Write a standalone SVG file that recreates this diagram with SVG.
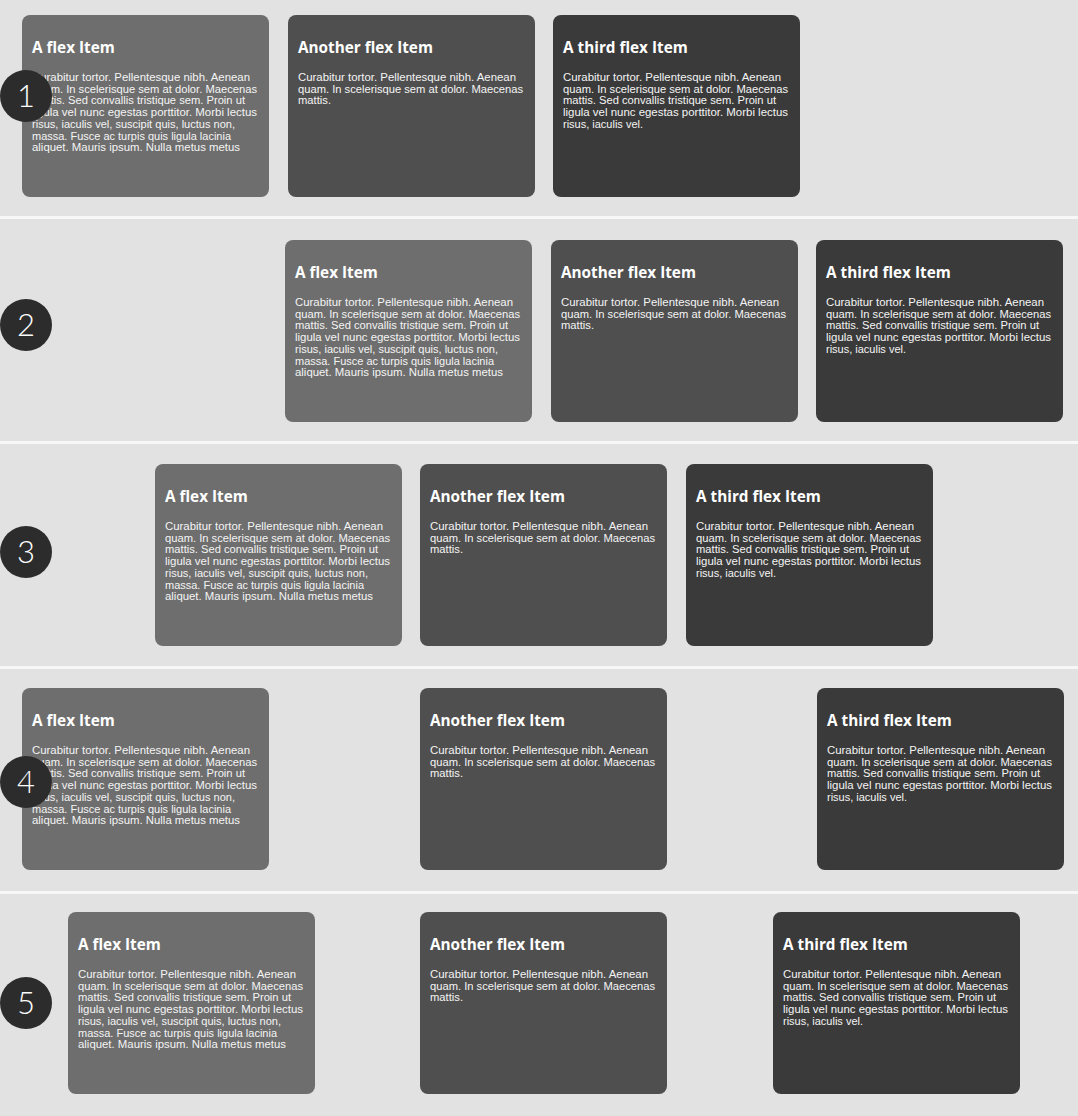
<svg xmlns="http://www.w3.org/2000/svg" width="1078" height="1116" viewBox="0 0 1078 1116">
  <style>
    .bg { fill: #e2e2e2; }
    .sep { fill: #f7f7f7; }
    .item { stroke: none; }
    .c1 { fill: #6e6e6e; }
    .c2 { fill: #4f4f4f; }
    .c3 { fill: #3a3a3a; }
    .title { font-family: "Open Sans", "Liberation Sans", sans-serif; font-weight: 700; font-size: 15.3px; fill: #ffffff; }
    .body { font-family: "Liberation Sans", Arial, sans-serif; font-size: 10px; fill: #f4f4f4; }
    .badge { fill: #2c2c2c; }
    .num { font-family: "Lato", "Open Sans", sans-serif; font-weight: 300; font-size: 31px; fill: #ffffff; text-anchor: middle; }
  </style>

  <!-- page background and row dividers -->
  <rect class="bg" x="0" y="0" width="1078" height="1116"/>
  <rect class="sep" x="0" y="216" width="1078" height="3"/>
  <rect class="sep" x="0" y="441" width="1078" height="3"/>
  <rect class="sep" x="0" y="666" width="1078" height="3"/>
  <rect class="sep" x="0" y="891" width="1078" height="3"/>

  <!-- row 1: flex-start -->
  <g id="row1-item1" transform="translate(22,15)">
    <rect class="item c1" width="247" height="182" rx="8"/>
    <text class="title" x="10" y="38">A flex Item</text>
    <text class="body" x="10" y="66" textLength="218" lengthAdjust="spacingAndGlyphs">Curabitur tortor. Pellentesque nibh. Aenean</text>
    <text class="body" x="10" y="77.7" textLength="225" lengthAdjust="spacingAndGlyphs">quam. In scelerisque sem at dolor. Maecenas</text>
    <text class="body" x="10" y="89.4" textLength="213" lengthAdjust="spacingAndGlyphs">mattis. Sed convallis tristique sem. Proin ut</text>
    <text class="body" x="10" y="101.1" textLength="225" lengthAdjust="spacingAndGlyphs">ligula vel nunc egestas porttitor. Morbi lectus</text>
    <text class="body" x="10" y="112.8" textLength="203" lengthAdjust="spacingAndGlyphs">risus, iaculis vel, suscipit quis, luctus non,</text>
    <text class="body" x="10" y="124.5" textLength="199" lengthAdjust="spacingAndGlyphs">massa. Fusce ac turpis quis ligula lacinia</text>
    <text class="body" x="10" y="136.2" textLength="208" lengthAdjust="spacingAndGlyphs">aliquet. Mauris ipsum. Nulla metus metus</text>
  </g>
  <g id="row1-item2" transform="translate(288,15)">
    <rect class="item c2" width="247" height="182" rx="8"/>
    <text class="title" x="10" y="38">Another flex Item</text>
    <text class="body" x="10" y="66" textLength="218" lengthAdjust="spacingAndGlyphs">Curabitur tortor. Pellentesque nibh. Aenean</text>
    <text class="body" x="10" y="77.7" textLength="225" lengthAdjust="spacingAndGlyphs">quam. In scelerisque sem at dolor. Maecenas</text>
    <text class="body" x="10" y="89.4" textLength="33" lengthAdjust="spacingAndGlyphs">mattis.</text>
  </g>
  <g id="row1-item3" transform="translate(553,15)">
    <rect class="item c3" width="247" height="182" rx="8"/>
    <text class="title" x="10" y="38">A third flex Item</text>
    <text class="body" x="10" y="66" textLength="218" lengthAdjust="spacingAndGlyphs">Curabitur tortor. Pellentesque nibh. Aenean</text>
    <text class="body" x="10" y="77.7" textLength="225" lengthAdjust="spacingAndGlyphs">quam. In scelerisque sem at dolor. Maecenas</text>
    <text class="body" x="10" y="89.4" textLength="213" lengthAdjust="spacingAndGlyphs">mattis. Sed convallis tristique sem. Proin ut</text>
    <text class="body" x="10" y="101.1" textLength="225" lengthAdjust="spacingAndGlyphs">ligula vel nunc egestas porttitor. Morbi lectus</text>
    <text class="body" x="10" y="112.8" textLength="80" lengthAdjust="spacingAndGlyphs">risus, iaculis vel.</text>
  </g>
  <g id="badge1">
    <circle class="badge" cx="26" cy="96" r="26"/>
    <text class="num" x="26" y="107">1</text>
  </g>

  <!-- row 2: flex-end -->
  <g id="row2-item1" transform="translate(285,240)">
    <rect class="item c1" width="247" height="182" rx="8"/>
    <text class="title" x="10" y="38">A flex Item</text>
    <text class="body" x="10" y="66" textLength="218" lengthAdjust="spacingAndGlyphs">Curabitur tortor. Pellentesque nibh. Aenean</text>
    <text class="body" x="10" y="77.7" textLength="225" lengthAdjust="spacingAndGlyphs">quam. In scelerisque sem at dolor. Maecenas</text>
    <text class="body" x="10" y="89.4" textLength="213" lengthAdjust="spacingAndGlyphs">mattis. Sed convallis tristique sem. Proin ut</text>
    <text class="body" x="10" y="101.1" textLength="225" lengthAdjust="spacingAndGlyphs">ligula vel nunc egestas porttitor. Morbi lectus</text>
    <text class="body" x="10" y="112.8" textLength="203" lengthAdjust="spacingAndGlyphs">risus, iaculis vel, suscipit quis, luctus non,</text>
    <text class="body" x="10" y="124.5" textLength="199" lengthAdjust="spacingAndGlyphs">massa. Fusce ac turpis quis ligula lacinia</text>
    <text class="body" x="10" y="136.2" textLength="208" lengthAdjust="spacingAndGlyphs">aliquet. Mauris ipsum. Nulla metus metus</text>
  </g>
  <g id="row2-item2" transform="translate(551,240)">
    <rect class="item c2" width="247" height="182" rx="8"/>
    <text class="title" x="10" y="38">Another flex Item</text>
    <text class="body" x="10" y="66" textLength="218" lengthAdjust="spacingAndGlyphs">Curabitur tortor. Pellentesque nibh. Aenean</text>
    <text class="body" x="10" y="77.7" textLength="225" lengthAdjust="spacingAndGlyphs">quam. In scelerisque sem at dolor. Maecenas</text>
    <text class="body" x="10" y="89.4" textLength="33" lengthAdjust="spacingAndGlyphs">mattis.</text>
  </g>
  <g id="row2-item3" transform="translate(816,240)">
    <rect class="item c3" width="247" height="182" rx="8"/>
    <text class="title" x="10" y="38">A third flex Item</text>
    <text class="body" x="10" y="66" textLength="218" lengthAdjust="spacingAndGlyphs">Curabitur tortor. Pellentesque nibh. Aenean</text>
    <text class="body" x="10" y="77.7" textLength="225" lengthAdjust="spacingAndGlyphs">quam. In scelerisque sem at dolor. Maecenas</text>
    <text class="body" x="10" y="89.4" textLength="213" lengthAdjust="spacingAndGlyphs">mattis. Sed convallis tristique sem. Proin ut</text>
    <text class="body" x="10" y="101.1" textLength="225" lengthAdjust="spacingAndGlyphs">ligula vel nunc egestas porttitor. Morbi lectus</text>
    <text class="body" x="10" y="112.8" textLength="80" lengthAdjust="spacingAndGlyphs">risus, iaculis vel.</text>
  </g>
  <g id="badge2">
    <circle class="badge" cx="26" cy="325" r="26"/>
    <text class="num" x="26" y="336">2</text>
  </g>

  <!-- row 3: center -->
  <g id="row3-item1" transform="translate(155,464)">
    <rect class="item c1" width="247" height="182" rx="8"/>
    <text class="title" x="10" y="38">A flex Item</text>
    <text class="body" x="10" y="66" textLength="218" lengthAdjust="spacingAndGlyphs">Curabitur tortor. Pellentesque nibh. Aenean</text>
    <text class="body" x="10" y="77.7" textLength="225" lengthAdjust="spacingAndGlyphs">quam. In scelerisque sem at dolor. Maecenas</text>
    <text class="body" x="10" y="89.4" textLength="213" lengthAdjust="spacingAndGlyphs">mattis. Sed convallis tristique sem. Proin ut</text>
    <text class="body" x="10" y="101.1" textLength="225" lengthAdjust="spacingAndGlyphs">ligula vel nunc egestas porttitor. Morbi lectus</text>
    <text class="body" x="10" y="112.8" textLength="203" lengthAdjust="spacingAndGlyphs">risus, iaculis vel, suscipit quis, luctus non,</text>
    <text class="body" x="10" y="124.5" textLength="199" lengthAdjust="spacingAndGlyphs">massa. Fusce ac turpis quis ligula lacinia</text>
    <text class="body" x="10" y="136.2" textLength="208" lengthAdjust="spacingAndGlyphs">aliquet. Mauris ipsum. Nulla metus metus</text>
  </g>
  <g id="row3-item2" transform="translate(420,464)">
    <rect class="item c2" width="247" height="182" rx="8"/>
    <text class="title" x="10" y="38">Another flex Item</text>
    <text class="body" x="10" y="66" textLength="218" lengthAdjust="spacingAndGlyphs">Curabitur tortor. Pellentesque nibh. Aenean</text>
    <text class="body" x="10" y="77.7" textLength="225" lengthAdjust="spacingAndGlyphs">quam. In scelerisque sem at dolor. Maecenas</text>
    <text class="body" x="10" y="89.4" textLength="33" lengthAdjust="spacingAndGlyphs">mattis.</text>
  </g>
  <g id="row3-item3" transform="translate(686,464)">
    <rect class="item c3" width="247" height="182" rx="8"/>
    <text class="title" x="10" y="38">A third flex Item</text>
    <text class="body" x="10" y="66" textLength="218" lengthAdjust="spacingAndGlyphs">Curabitur tortor. Pellentesque nibh. Aenean</text>
    <text class="body" x="10" y="77.7" textLength="225" lengthAdjust="spacingAndGlyphs">quam. In scelerisque sem at dolor. Maecenas</text>
    <text class="body" x="10" y="89.4" textLength="213" lengthAdjust="spacingAndGlyphs">mattis. Sed convallis tristique sem. Proin ut</text>
    <text class="body" x="10" y="101.1" textLength="225" lengthAdjust="spacingAndGlyphs">ligula vel nunc egestas porttitor. Morbi lectus</text>
    <text class="body" x="10" y="112.8" textLength="80" lengthAdjust="spacingAndGlyphs">risus, iaculis vel.</text>
  </g>
  <g id="badge3">
    <circle class="badge" cx="26" cy="552" r="26"/>
    <text class="num" x="26" y="563">3</text>
  </g>

  <!-- row 4: space-between -->
  <g id="row4-item1" transform="translate(22,688)">
    <rect class="item c1" width="247" height="182" rx="8"/>
    <text class="title" x="10" y="38">A flex Item</text>
    <text class="body" x="10" y="66" textLength="218" lengthAdjust="spacingAndGlyphs">Curabitur tortor. Pellentesque nibh. Aenean</text>
    <text class="body" x="10" y="77.7" textLength="225" lengthAdjust="spacingAndGlyphs">quam. In scelerisque sem at dolor. Maecenas</text>
    <text class="body" x="10" y="89.4" textLength="213" lengthAdjust="spacingAndGlyphs">mattis. Sed convallis tristique sem. Proin ut</text>
    <text class="body" x="10" y="101.1" textLength="225" lengthAdjust="spacingAndGlyphs">ligula vel nunc egestas porttitor. Morbi lectus</text>
    <text class="body" x="10" y="112.8" textLength="203" lengthAdjust="spacingAndGlyphs">risus, iaculis vel, suscipit quis, luctus non,</text>
    <text class="body" x="10" y="124.5" textLength="199" lengthAdjust="spacingAndGlyphs">massa. Fusce ac turpis quis ligula lacinia</text>
    <text class="body" x="10" y="136.2" textLength="208" lengthAdjust="spacingAndGlyphs">aliquet. Mauris ipsum. Nulla metus metus</text>
  </g>
  <g id="row4-item2" transform="translate(420,688)">
    <rect class="item c2" width="247" height="182" rx="8"/>
    <text class="title" x="10" y="38">Another flex Item</text>
    <text class="body" x="10" y="66" textLength="218" lengthAdjust="spacingAndGlyphs">Curabitur tortor. Pellentesque nibh. Aenean</text>
    <text class="body" x="10" y="77.7" textLength="225" lengthAdjust="spacingAndGlyphs">quam. In scelerisque sem at dolor. Maecenas</text>
    <text class="body" x="10" y="89.4" textLength="33" lengthAdjust="spacingAndGlyphs">mattis.</text>
  </g>
  <g id="row4-item3" transform="translate(817,688)">
    <rect class="item c3" width="247" height="182" rx="8"/>
    <text class="title" x="10" y="38">A third flex Item</text>
    <text class="body" x="10" y="66" textLength="218" lengthAdjust="spacingAndGlyphs">Curabitur tortor. Pellentesque nibh. Aenean</text>
    <text class="body" x="10" y="77.7" textLength="225" lengthAdjust="spacingAndGlyphs">quam. In scelerisque sem at dolor. Maecenas</text>
    <text class="body" x="10" y="89.4" textLength="213" lengthAdjust="spacingAndGlyphs">mattis. Sed convallis tristique sem. Proin ut</text>
    <text class="body" x="10" y="101.1" textLength="225" lengthAdjust="spacingAndGlyphs">ligula vel nunc egestas porttitor. Morbi lectus</text>
    <text class="body" x="10" y="112.8" textLength="80" lengthAdjust="spacingAndGlyphs">risus, iaculis vel.</text>
  </g>
  <g id="badge4">
    <circle class="badge" cx="26" cy="782" r="26"/>
    <text class="num" x="26" y="793">4</text>
  </g>

  <!-- row 5: space-around -->
  <g id="row5-item1" transform="translate(68,912)">
    <rect class="item c1" width="247" height="182" rx="8"/>
    <text class="title" x="10" y="38">A flex Item</text>
    <text class="body" x="10" y="66" textLength="218" lengthAdjust="spacingAndGlyphs">Curabitur tortor. Pellentesque nibh. Aenean</text>
    <text class="body" x="10" y="77.7" textLength="225" lengthAdjust="spacingAndGlyphs">quam. In scelerisque sem at dolor. Maecenas</text>
    <text class="body" x="10" y="89.4" textLength="213" lengthAdjust="spacingAndGlyphs">mattis. Sed convallis tristique sem. Proin ut</text>
    <text class="body" x="10" y="101.1" textLength="225" lengthAdjust="spacingAndGlyphs">ligula vel nunc egestas porttitor. Morbi lectus</text>
    <text class="body" x="10" y="112.8" textLength="203" lengthAdjust="spacingAndGlyphs">risus, iaculis vel, suscipit quis, luctus non,</text>
    <text class="body" x="10" y="124.5" textLength="199" lengthAdjust="spacingAndGlyphs">massa. Fusce ac turpis quis ligula lacinia</text>
    <text class="body" x="10" y="136.2" textLength="208" lengthAdjust="spacingAndGlyphs">aliquet. Mauris ipsum. Nulla metus metus</text>
  </g>
  <g id="row5-item2" transform="translate(420,912)">
    <rect class="item c2" width="247" height="182" rx="8"/>
    <text class="title" x="10" y="38">Another flex Item</text>
    <text class="body" x="10" y="66" textLength="218" lengthAdjust="spacingAndGlyphs">Curabitur tortor. Pellentesque nibh. Aenean</text>
    <text class="body" x="10" y="77.7" textLength="225" lengthAdjust="spacingAndGlyphs">quam. In scelerisque sem at dolor. Maecenas</text>
    <text class="body" x="10" y="89.4" textLength="33" lengthAdjust="spacingAndGlyphs">mattis.</text>
  </g>
  <g id="row5-item3" transform="translate(773,912)">
    <rect class="item c3" width="247" height="182" rx="8"/>
    <text class="title" x="10" y="38">A third flex Item</text>
    <text class="body" x="10" y="66" textLength="218" lengthAdjust="spacingAndGlyphs">Curabitur tortor. Pellentesque nibh. Aenean</text>
    <text class="body" x="10" y="77.7" textLength="225" lengthAdjust="spacingAndGlyphs">quam. In scelerisque sem at dolor. Maecenas</text>
    <text class="body" x="10" y="89.4" textLength="213" lengthAdjust="spacingAndGlyphs">mattis. Sed convallis tristique sem. Proin ut</text>
    <text class="body" x="10" y="101.1" textLength="225" lengthAdjust="spacingAndGlyphs">ligula vel nunc egestas porttitor. Morbi lectus</text>
    <text class="body" x="10" y="112.8" textLength="80" lengthAdjust="spacingAndGlyphs">risus, iaculis vel.</text>
  </g>
  <g id="badge5">
    <circle class="badge" cx="26" cy="1003" r="26"/>
    <text class="num" x="26" y="1014">5</text>
  </g>

  <!-- no connectors in this layout -->
  <g id="connectors"/>
</svg>
